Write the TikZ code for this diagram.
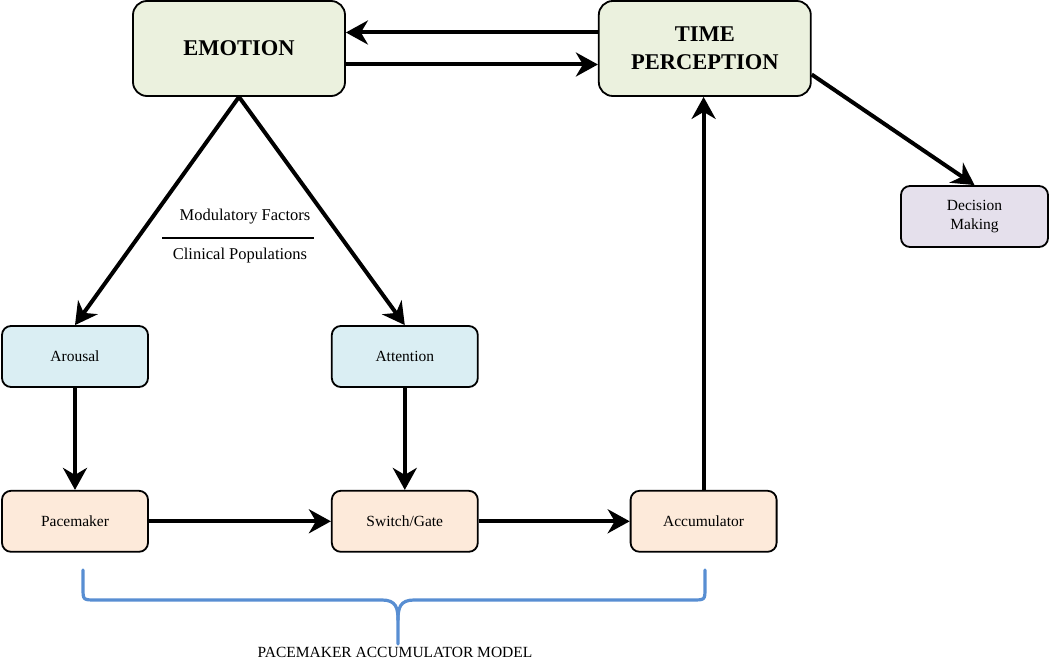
\documentclass[tikz,border=0pt]{standalone}
\usepackage{fontspec}
\setmainfont{Liberation Serif}
\usetikzlibrary{arrows.meta, positioning, calc}
\definecolor{emoGreen}{RGB}{235, 241, 222}
\definecolor{modBlue}{RGB}{218, 238, 243}
\definecolor{pamOrange}{RGB}{253, 234, 218}
\definecolor{decPurple}{RGB}{229, 224, 236}
\definecolor{braceBlue}{RGB}{88, 142, 210}

\begin{document}
\begin{tikzpicture}[
    x=1pt, y=-1pt,
    font=\fontsize{15.5}{19}\selectfont,
    % main boxes
    bigbox/.style={
        draw,
        line width=1.8pt,
        rounded corners=14pt,
        fill=emoGreen,
        minimum width=212pt,
        minimum height=95pt,
        align=center,
        font=\fontsize{22.5}{28}\selectfont\bfseries
    },
    % small boxes
    smallbox/.style={
        draw,
        line width=1.8pt,
        rounded corners=9pt,
        minimum width=146pt,
        minimum height=61pt,
        align=center
    },
    % arrows
    arrow/.style={
        -{Stealth[length=22pt, width=24pt, inset=7pt]},
        line width=4pt,
        black
    },
    brace/.style={
        braceBlue,
        line width=3.2pt,
        line cap=round
    }
]
    \useasboundingbox (0,0) rectangle (1050,660);

    % --- 1. Top row ---
    \node[bigbox] (emotion) at (239,48.5) {EMOTION};
    \node[bigbox, right=252pt of emotion] (timep) {TIME\\PERCEPTION};
    \node[smallbox, fill=decPurple, minimum width=147pt] (decision) at (974.5,216.5) {Decision\\Making};

    \draw[arrow] ([yshift=16pt]timep.west) -- ([yshift=16pt]emotion.east);
    \draw[arrow] ([yshift=-16pt]emotion.east) -- ([yshift=-16pt]timep.west);
    \draw[arrow] ([yshift=-26pt]timep.east) -- (decision.north);

    % --- 2. Modulators ---
    \node[smallbox, fill=modBlue] (arousal) at (75,356.5) {Arousal};
    \node[smallbox, fill=modBlue, right=182pt of arousal] (attention) {Attention};

    \draw[arrow] (emotion.south) -- (arousal.north);
    \draw[arrow] (emotion.south) -- (attention.north);

    % Factors label
    \node[font=\fontsize{16.5}{20}\selectfont] (modfac) at (245,217) {Modulatory Factors};
    \node[font=\fontsize{16.5}{20}\selectfont] (clinpop) at (240,256) {Clinical Populations};
    \coordinate (sepL) at (162,238);
    \coordinate (sepR) at (314,238);
    \draw[line width=1.2pt] (sepL) -- (sepR);

    % --- 3. Pacemaker accumulator ---
    \node[smallbox, fill=pamOrange, below=102pt of arousal] (pacemaker) {Pacemaker};
    \node[smallbox, fill=pamOrange, right=182pt of pacemaker] (switch) {Switch/Gate};
    \node[smallbox, fill=pamOrange, right=151pt of switch] (accum) {Accumulator};

    \draw[arrow] (arousal) -- (pacemaker);
    \draw[arrow] (attention) -- (switch);
    \draw[arrow] (pacemaker) -- (switch);
    \draw[arrow] (switch) -- (accum);
    \draw[arrow] (accum.north) -- (accum.north |- timep.south);

    % Brace
    \coordinate (braceL) at (83,570);
    \coordinate (braceR) at (705,570);
    \coordinate (braceTip) at (398,644);
    \draw[brace] (braceL) -- (83,588) .. controls (83,600) .. (96,600) -- (382,600)
        .. controls (396,600) and (398,608) .. (398,620) -- (braceTip);
    \draw[brace] (braceR) -- (705,588) .. controls (705,600) .. (692,600) -- (414,600)
        .. controls (400,600) and (398,608) .. (398,620);
    \node[anchor=base, inner sep=0pt] (pamlabel) at (395,657) {PACEMAKER ACCUMULATOR MODEL};

\end{tikzpicture}
\end{document}
